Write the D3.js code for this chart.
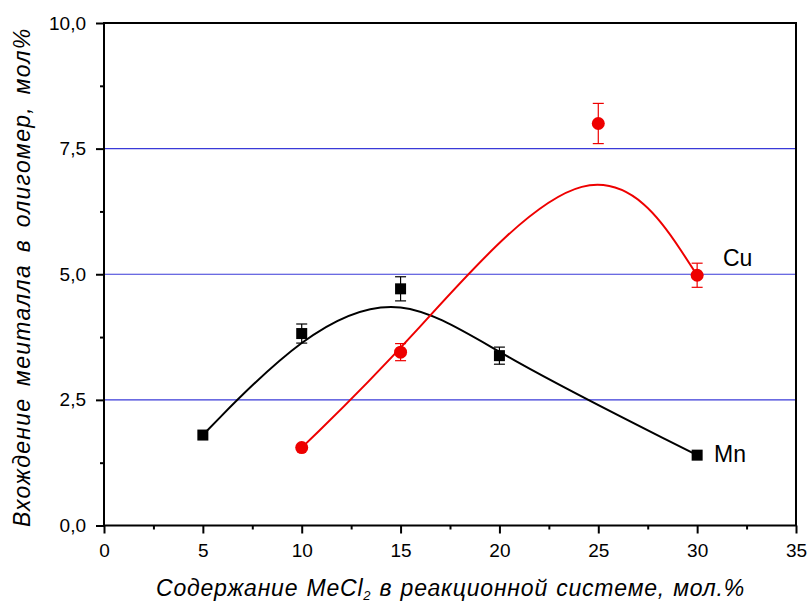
<!DOCTYPE html>
<html>
<head>
<meta charset="utf-8">
<script src="https://cdn.jsdelivr.net/npm/d3@7"></script>
<style>
  html, body { margin: 0; padding: 0; background: #fff; }
  svg { display: block; }
  text { font-family: Arial, "Liberation Sans", sans-serif; fill: #000; }
</style>
</head>
<body>
<svg id="chart" width="809" height="603"></svg>
<script>
// MeCl2 content in the reaction system, mol.%
const mnX = [5, 10, 15, 20, 30];
const mnY = [1.8, 3.82, 4.71, 3.38, 1.4];
const mnErr = [0, 0.19, 0.24, 0.17, 0];

const cuX = [10, 15, 25, 30];
const cuY = [1.55, 3.45, 8.0, 4.98];
const cuErr = [0, 0.17, 0.4, 0.24];

const xTicks = [0, 5, 10, 15, 20, 25, 30, 35];
const xMinor = [2.5, 7.5, 12.5, 17.5, 22.5, 27.5, 32.5];
const yTicks = [0, 2.5, 5, 7.5, 10];
const yMinor = [1.25, 3.75, 6.25, 8.75];
const gridY = [2.5, 5, 7.5];

const svg = d3.select("#chart");
const plotL = 104, plotR = 796, plotT = 23, plotB = 525.5;

const x = d3.scaleLinear().domain([0, 35]).range([plotL, plotR]);
const y = d3.scaleLinear().domain([0, 10]).range([plotB, plotT]);
const fmt = v => d3.format(".1f")(v).replace(".", ",");

// horizontal guide lines
svg.append("g").selectAll("line").data(gridY).join("line")
  .attr("x1", plotL).attr("x2", plotR)
  .attr("y1", d => y(d)).attr("y2", d => y(d))
  .attr("stroke", "#3a3ad8").attr("stroke-width", 1.2);

// bottom axis
svg.append("g").attr("transform", `translate(0,${plotB})`)
  .call(d3.axisBottom(x).tickValues(xTicks).tickFormat(d3.format("d")).tickSize(8).tickPadding(10));
svg.append("g").attr("transform", `translate(0,${plotB})`)
  .call(d3.axisBottom(x).tickValues(xMinor).tickFormat("").tickSize(4));

// left axis
svg.append("g").attr("transform", `translate(${plotL},0)`)
  .call(d3.axisLeft(y).tickValues(yTicks).tickFormat(fmt).tickSize(8).tickPadding(10));
svg.append("g").attr("transform", `translate(${plotL},0)`)
  .call(d3.axisLeft(y).tickValues(yMinor).tickFormat("").tickSize(4));

svg.selectAll(".tick line").attr("stroke", "#000").attr("stroke-width", 2);
svg.selectAll(".domain").remove();
svg.selectAll(".tick text")
  .style("font-size", "19px")
  .style("font-family", "Arial, 'Liberation Sans', sans-serif")
  .attr("fill", "#000");

// plot frame
svg.append("rect")
  .attr("x", plotL).attr("y", plotT)
  .attr("width", plotR - plotL).attr("height", plotB - plotT)
  .attr("fill", "none").attr("stroke", "#000").attr("stroke-width", 2);

// smoothed trend lines
const line = d3.line().x(d => x(d[0])).y(d => y(d[1])).curve(d3.curveBasis);
const mnPts = mnX.map((v, i) => [v, mnY[i]]);
const cuPts = cuX.map((v, i) => [v, cuY[i]]);

svg.append("path").datum(mnPts).attr("d", line)
  .attr("fill", "none").attr("stroke", "#000").attr("stroke-width", 2);
svg.append("path").datum(cuPts).attr("d", line)
  .attr("fill", "none").attr("stroke", "#ee0000").attr("stroke-width", 2);

// error bars
function errorBars(xs, ys, es, color) {
  const g = svg.append("g").attr("stroke", color).attr("stroke-width", 1.2);
  xs.forEach((xv, i) => {
    if (!es[i]) return;
    const cx = x(xv), y1 = y(ys[i] + es[i]), y2 = y(ys[i] - es[i]);
    g.append("line").attr("x1", cx).attr("x2", cx).attr("y1", y1).attr("y2", y2);
    g.append("line").attr("x1", cx - 5.5).attr("x2", cx + 5.5).attr("y1", y1).attr("y2", y1);
    g.append("line").attr("x1", cx - 5.5).attr("x2", cx + 5.5).attr("y1", y2).attr("y2", y2);
  });
}
errorBars(mnX, mnY, mnErr, "#000");
errorBars(cuX, cuY, cuErr, "#ee0000");

// markers
svg.append("g").selectAll("rect").data(mnPts).join("rect")
  .attr("x", d => x(d[0]) - 5.5).attr("y", d => y(d[1]) - 5.5)
  .attr("width", 11).attr("height", 11).attr("fill", "#000");
svg.append("g").selectAll("circle").data(cuPts).join("circle")
  .attr("cx", d => x(d[0])).attr("cy", d => y(d[1])).attr("r", 6.5)
  .attr("fill", "#ee0000");

// series labels
svg.append("text").attr("x", 723).attr("y", 266).style("font-size", "23px").text("Cu");
svg.append("text").attr("x", 714).attr("y", 462).style("font-size", "23px").text("Mn");

// axis titles
const xt = svg.append("text").attr("x", 156).attr("y", 596)
  .style("font-size", "23px").style("font-style", "italic")
  .style("letter-spacing", "0.8px").style("word-spacing", "1px");
xt.append("tspan").text("Содержание MeCl");
xt.append("tspan").attr("dy", 4).style("font-size", "13px").text("2");
xt.append("tspan").attr("dy", -4).text(" в реакционной системе, мол.%");

svg.append("text")
  .attr("transform", "translate(30,527) rotate(-90)")
  .style("font-size", "23px").style("font-style", "italic")
  .style("letter-spacing", "1.3px").style("word-spacing", "4px")
  .text("Вхождение меиталла в олигомер, мол%");
</script>
</body>
</html>
